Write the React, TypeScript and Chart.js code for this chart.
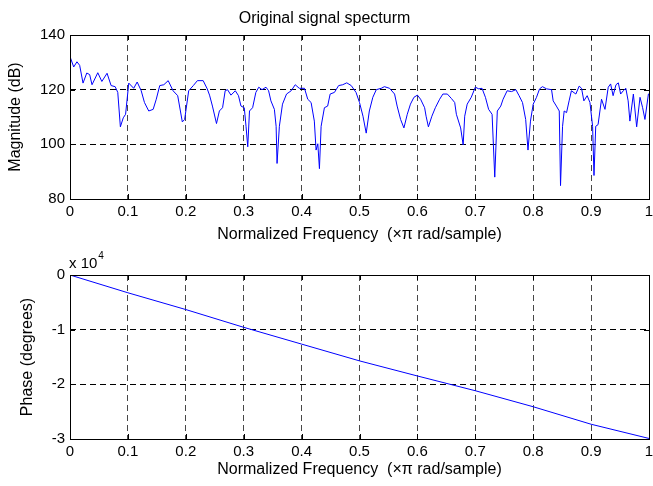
import React, { useEffect, useRef } from 'react';
import { Chart, registerables } from 'chart.js';

Chart.register(...registerables);

const FONT = "'Liberation Sans', Arial, Helvetica, sans-serif";

const titleText = 'Original signal specturm';
const xLabel = 'Normalized Frequency  (\u00d7\u03c0 rad/sample)';
const magLabel = 'Magnitude (dB)';
const phaseLabel = 'Phase (degrees)';

const magFreq = [
  0, 0.0064, 0.012, 0.0167, 0.0225, 0.029, 0.034, 0.038, 0.048, 0.055, 0.064, 0.071, 0.078, 0.0825, 0.087, 0.092,
  0.096, 0.1015, 0.11, 0.116, 0.123, 0.1286, 0.136, 0.1436, 0.149, 0.155, 0.162, 0.1696, 0.178, 0.186, 0.194, 0.198,
  0.205, 0.213, 0.22, 0.23, 0.237, 0.241, 0.246, 0.253, 0.258, 0.2635, 0.268, 0.272, 0.278, 0.2855, 0.291, 0.2953,
  0.301, 0.304, 0.307, 0.31, 0.3154, 0.321, 0.326, 0.3316, 0.3385, 0.343, 0.347, 0.353, 0.356, 0.3576, 0.3616, 0.367,
  0.374, 0.382, 0.389, 0.396, 0.405, 0.4106, 0.4164, 0.422, 0.425, 0.428, 0.4308, 0.4337, 0.4394, 0.445, 0.4493,
  0.4567, 0.464, 0.471, 0.478, 0.4857, 0.494, 0.5, 0.506, 0.5116, 0.517, 0.523, 0.529, 0.5375, 0.543, 0.552, 0.5606,
  0.565, 0.571, 0.5767, 0.5825, 0.588, 0.594, 0.6, 0.6055, 0.6125, 0.615, 0.619, 0.625, 0.631, 0.6384, 0.644, 0.6517,
  0.6586, 0.6644, 0.6673, 0.6747, 0.679, 0.6817, 0.686, 0.693, 0.7, 0.706, 0.7116, 0.7175, 0.723, 0.729, 0.7336,
  0.738, 0.744, 0.748, 0.755, 0.7625, 0.77, 0.7756, 0.7815, 0.787, 0.791, 0.7953, 0.8, 0.8057, 0.811, 0.816, 0.823,
  0.8317, 0.8345, 0.84, 0.845, 0.8472, 0.8507, 0.8535, 0.8576, 0.862, 0.866, 0.8737, 0.8794, 0.8835, 0.8875, 0.8932,
  0.898, 0.9026, 0.905, 0.908, 0.912, 0.918, 0.924, 0.9296, 0.9337, 0.938, 0.943, 0.947, 0.951, 0.9556, 0.96, 0.964,
  0.967, 0.973, 0.9787, 0.9845, 0.989, 0.993, 0.999, 1.0,
];

const magDb = [
  132.1, 128.3, 130.2, 128.9, 122.4, 126.1, 125.5, 121.8, 126.2, 123, 126, 121.5, 121.1, 119, 106.4, 109.7,
  111, 122.4, 120.5, 122.8, 119.6, 115.3, 112.2, 112.8, 116.5, 121.5, 121.8, 123.3, 119.6, 117.8, 108.2, 109.1,
  119.6, 121.5, 123.3, 123.3, 120.3, 118, 114, 107.6, 112.2, 113.4, 119.6, 120, 118, 119.6, 117.8, 114,
  113.4, 106.6, 99.1, 112.2, 113.4, 119, 120.9, 120, 120.9, 119.6, 115.9, 112.8, 106.6, 93, 106.6, 114.7,
  118.4, 119.6, 121.8, 120.5, 120.5, 116.5, 115.3, 108.5, 97.9, 100.2, 91.1, 106.6, 113.4, 114, 118.4,
  119, 121.5, 121.8, 122.5, 121.5, 119, 115.3, 110.3, 104.1, 112.2, 117.2, 120, 120.5, 121.1, 120.5, 118.4,
  114, 109.1, 106, 111, 114.7, 117.2, 118, 116.5, 113.4, 110.3, 106.4, 110.3, 113.4, 116.5, 118.4, 118.4,
  116.8, 115.3, 111, 106, 99.8, 110.3, 114.7, 117.2, 120.9, 120.3, 120.5, 117.2, 112.8, 111, 88,
  112.2, 114, 116.5, 119.6, 119.3, 120, 117.8, 115.3, 109.1, 97.9, 108.5, 114.7, 117.2, 120.3, 121.1, 120.3,
  120, 115.9, 114, 112.2, 84.9, 106.6, 112.2, 111.6, 115.9, 119.6, 118.4, 121.3, 120.5, 115.9, 117.8,
  115.3, 106.6, 88.6, 106.6, 107.2, 116.5, 112.8, 120.9, 122.1, 117.8, 121.8, 122.5, 118.4, 119.6, 120.5, 115.9,
  108.5, 118.4, 106.4, 117.2, 113.4, 109.1, 118.4, 118.5,
];

const phaseFreq = [0, 0.1, 0.2, 0.3, 0.4, 0.5, 0.6, 0.7, 0.8, 0.9, 1.0];
const phaseDeg = [0, -3250, -6320, -9570, -12640, -15710, -18470, -21170, -24100, -27300, -29900];

const magTicks = [80, 100, 120, 140];
const phaseTicks = [-30000, -20000, -10000, 0];
const phaseExponent = '4';

const fmtFreq = (v: number) => String(Number(Number(v).toFixed(1)));

const matlabFrame = {
  id: 'matlabFrame',
  afterDraw(chart: any, _args: any, opts: any) {
    const { ctx, chartArea } = chart;
    const { left, right, top, bottom } = chartArea;
    const xs = chart.scales.x;
    const ys = chart.scales.y;
    const a = (v: number) => Math.round(v) + 0.5;
    ctx.save();
    ctx.setLineDash([]);
    ctx.strokeStyle = '#000';
    ctx.lineWidth = 1;
    ctx.beginPath();
    xs.ticks.forEach((t: any) => {
      const p = a(xs.getPixelForValue(t.value));
      ctx.moveTo(p, bottom);
      ctx.lineTo(p, bottom - 5);
      ctx.moveTo(p, top);
      ctx.lineTo(p, top + 5);
    });
    ys.ticks.forEach((t: any) => {
      const p = a(ys.getPixelForValue(t.value));
      ctx.moveTo(left, p);
      ctx.lineTo(left + 5, p);
      ctx.moveTo(right, p);
      ctx.lineTo(right - 5, p);
    });
    ctx.stroke();
    ctx.strokeRect(a(left), a(top), Math.round(right) - Math.round(left), Math.round(bottom) - Math.round(top));
    if (opts && opts.exponent) {
      ctx.fillStyle = '#000';
      ctx.textBaseline = 'alphabetic';
      ctx.textAlign = 'left';
      ctx.font = `15px ${FONT}`;
      const base = 'x 10';
      const x0 = Math.round(left) - 1;
      const y0 = Math.round(top) - 7;
      ctx.fillText(base, x0, y0);
      const w = ctx.measureText(base).width;
      ctx.font = `10px ${FONT}`;
      ctx.fillText(opts.exponent, x0 + w + 1, y0 - 9);
    }
    ctx.restore();
  },
};

function makeXScale(height: number, titlePadBottom: number) {
  return {
    type: 'linear',
    min: 0,
    max: 1,
    afterFit: (s: any) => {
      s.height = height;
    },
    ticks: {
      stepSize: 0.1,
      color: '#000',
      padding: 4,
      maxRotation: 0,
      autoSkip: false,
      font: { size: 15, family: FONT },
      callback: (v: any) => fmtFreq(v),
    },
    grid: { color: 'rgba(0,0,0,0.72)', lineWidth: 1, drawTicks: false },
    border: { display: false, dash: [6, 4] },
    title: {
      display: true,
      text: xLabel,
      color: '#000',
      font: { size: 16, family: FONT, lineHeight: 1 },
      padding: { top: 0, bottom: titlePadBottom },
    },
  };
}

function TopChart() {
  const ref = useRef<HTMLCanvasElement | null>(null);
  useEffect(() => {
    if (!ref.current) return;
    const chart = new Chart(ref.current, {
      type: 'line',
      data: {
        datasets: [
          {
            data: magFreq.map((f, i) => ({ x: f, y: magDb[i] })),
            borderColor: '#0000ff',
            borderWidth: 1,
            pointRadius: 0,
            tension: 0,
            fill: false,
          },
        ],
      },
      options: {
        responsive: false,
        animation: false,
        events: [],
        layout: { padding: { left: 0, right: 21, top: 0, bottom: 0 } },
        plugins: {
          legend: { display: false },
          tooltip: { enabled: false },
          title: {
            display: true,
            text: titleText,
            color: '#000',
            font: { size: 16, family: FONT, weight: 'normal', lineHeight: 1.2 },
            padding: { top: 8.7, bottom: 7.1 },
          },
          matlabFrame: {},
        } as any,
        scales: {
          x: makeXScale(44, 0) as any,
          y: {
            type: 'linear',
            min: 80,
            max: 140,
            afterFit: (s: any) => {
              s.width = 70;
            },
            afterBuildTicks: (s: any) => {
              s.ticks = magTicks.map((v) => ({ value: v }));
            },
            ticks: {
              color: '#000',
              padding: 5,
              font: { size: 15, family: FONT },
              callback: (v: any) => String(v),
            },
            grid: { color: '#000', lineWidth: 1, drawTicks: false },
            border: { display: false, dash: [6, 4] },
            title: {
              display: true,
              text: magLabel,
              color: '#000',
              font: { size: 16, family: FONT, lineHeight: 1 },
              padding: { top: 8, bottom: 0 },
            },
          } as any,
        },
      },
      plugins: [matlabFrame as any],
    });
    return () => chart.destroy();
  }, []);
  return <canvas ref={ref} width={670} height={243} style={{ display: 'block', width: 670, height: 243 }} />;
}

function BottomChart() {
  const ref = useRef<HTMLCanvasElement | null>(null);
  useEffect(() => {
    if (!ref.current) return;
    const chart = new Chart(ref.current, {
      type: 'line',
      data: {
        datasets: [
          {
            data: phaseFreq.map((f, i) => ({ x: f, y: phaseDeg[i] })),
            borderColor: '#0000ff',
            borderWidth: 1,
            pointRadius: 0,
            tension: 0,
            fill: false,
          },
        ],
      },
      options: {
        responsive: false,
        animation: false,
        events: [],
        layout: { padding: { left: 0, right: 21, top: 32, bottom: 0 } },
        plugins: {
          legend: { display: false },
          tooltip: { enabled: false },
          title: { display: false },
          matlabFrame: { exponent: phaseExponent },
        } as any,
        scales: {
          x: makeXScale(47, 8) as any,
          y: {
            type: 'linear',
            min: -30000,
            max: 0,
            afterFit: (s: any) => {
              s.width = 70;
            },
            afterBuildTicks: (s: any) => {
              s.ticks = phaseTicks.map((v) => ({ value: v }));
            },
            ticks: {
              color: '#000',
              padding: 5,
              font: { size: 15, family: FONT },
              callback: (v: any) => String(Math.round(Number(v) / 10000)),
            },
            grid: { color: '#000', lineWidth: 1, drawTicks: false },
            border: { display: false, dash: [6, 4] },
            title: {
              display: true,
              text: phaseLabel,
              color: '#000',
              font: { size: 16, family: FONT, lineHeight: 1 },
              padding: { top: 20, bottom: 0 },
            },
          } as any,
        },
      },
      plugins: [matlabFrame as any],
    });
    return () => chart.destroy();
  }, []);
  return <canvas ref={ref} width={670} height={243} style={{ display: 'block', width: 670, height: 243 }} />;
}

export default function App() {
  return (
    <div
      style={{
        position: 'fixed',
        left: 0,
        top: 0,
        width: 653,
        height: 486,
        overflow: 'hidden',
        background: '#fff',
      }}
    >
      <TopChart />
      <BottomChart />
    </div>
  );
}
